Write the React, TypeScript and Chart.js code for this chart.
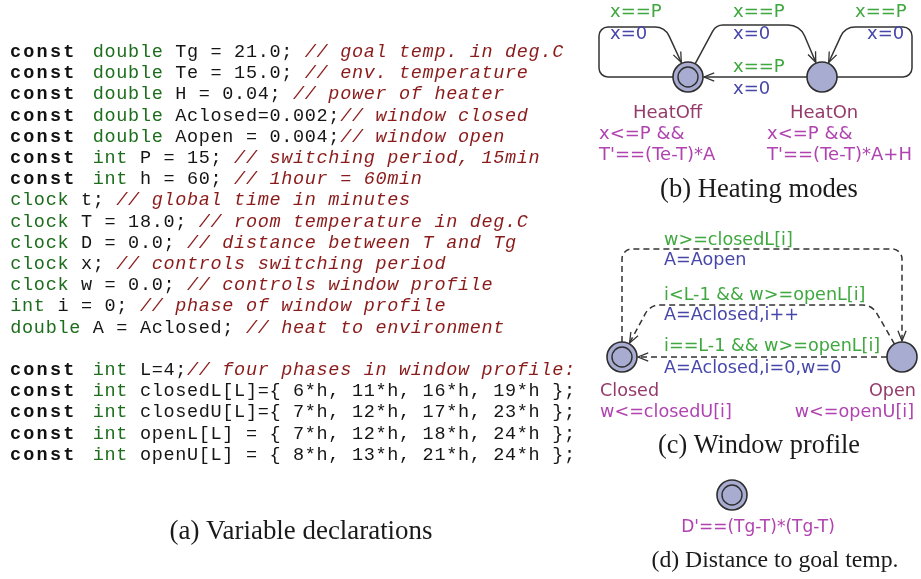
import React, { useEffect, useRef } from "react";
import { Chart, registerables } from "chart.js";
Chart.register(...registerables);

// ---------- (a) code listing: segments [style, text] ----------
type Seg = [string, string];
const codeLines: Seg[][] = [
  [["k", "const"], ["t", " double"], ["n", " Tg = 21.0; "], ["c", "// goal temp. in deg.C"]],
  [["k", "const"], ["t", " double"], ["n", " Te = 15.0; "], ["c", "// env. temperature"]],
  [["k", "const"], ["t", " double"], ["n", " H = 0.04; "], ["c", "// power of heater"]],
  [["k", "const"], ["t", " double"], ["n", " Aclosed=0.002;"], ["c", "// window closed"]],
  [["k", "const"], ["t", " double"], ["n", " Aopen = 0.004;"], ["c", "// window open"]],
  [["k", "const"], ["t", " int"], ["n", " P = 15; "], ["c", "// switching period, 15min"]],
  [["k", "const"], ["t", " int"], ["n", " h = 60; "], ["c", "// 1hour = 60min"]],
  [["t", "clock"], ["n", " t; "], ["c", "// global time in minutes"]],
  [["t", "clock"], ["n", " T = 18.0; "], ["c", "// room temperature in deg.C"]],
  [["t", "clock"], ["n", " D = 0.0; "], ["c", "// distance between T and Tg"]],
  [["t", "clock"], ["n", " x; "], ["c", "// controls switching period"]],
  [["t", "clock"], ["n", " w = 0.0; "], ["c", "// controls window profile"]],
  [["t", "int"], ["n", " i = 0; "], ["c", "// phase of window profile"]],
  [["t", "double"], ["n", " A = Aclosed; "], ["c", "// heat to environment"]],
  [],
  [["k", "const"], ["t", " int"], ["n", " L=4;"], ["c", "// four phases in window profile:"]],
  [["k", "const"], ["t", " int"], ["n", " closedL[L]={ 6*h, 11*h, 16*h, 19*h };"]],
  [["k", "const"], ["t", " int"], ["n", " closedU[L]={ 7*h, 12*h, 17*h, 23*h };"]],
  [["k", "const"], ["t", " int"], ["n", " openL[L] = { 7*h, 12*h, 18*h, 24*h };"]],
  [["k", "const"], ["t", " int"], ["n", " openU[L] = { 8*h, 13*h, 21*h, 24*h };"]],
];

// ---------- automata locations ----------
const nodeNames = ["HeatOff", "HeatOn", "Closed", "Open", "Goal"];
const nodeX = [688, 822, 622, 902, 732];
const nodeY = [77, 77, 357, 357, 495];
const nodeInitial = [1, 0, 1, 0, 1];

// ---------- automata edges ----------
const edgeFrom = [0, 1, 0, 1, 2, 3, 3];
const edgeTo = [0, 1, 1, 0, 3, 2, 2];
const edgeVia: [number, number][][] = [
  [[599, 77], [599, 27], [665, 27]],
  [[912, 77], [912, 27], [845, 27]],
  [[716, 25], [800, 25]],
  [],
  [[622, 249], [902, 249]],
  [[872, 305], [650, 305]],
  [],
];
const edgeRadii: number[][] = [[9, 9, 16], [9, 9, 16], [12, 18], [], [10, 10], [16, 16], []];
const edgeDashed = [0, 0, 0, 0, 1, 1, 1];

// ---------- labels ----------
const labelText = [
  "x==P", "x=0", "x==P", "x=0", "x==P", "x=0", "x==P", "x=0",
  "HeatOff", "HeatOn", "x<=P &&", "T'==(Te-T)*A", "x<=P &&", "T'==(Te-T)*A+H",
  "w>=closedL[i]", "A=Aopen", "i<L-1 && w>=openL[i]", "A=Aclosed,i++",
  "i==L-1 && w>=openL[i]", "A=Aclosed,i=0,w=0",
  "Closed", "w<=closedU[i]", "Open", "w<=openU[i]",
  "D'==(Tg-T)*(Tg-T)",
];
const labelX = [
  610, 610, 733, 733, 855, 867, 733, 733,
  633, 790, 599, 599, 767, 767,
  664, 664, 664, 664, 664, 664,
  600, 600, 916, 914,
  758,
];
const labelY = [
  17, 39, 17, 39, 17, 39, 72, 94,
  118, 118, 139, 160, 139, 160,
  245, 265, 300, 320, 351, 373,
  396, 417, 396, 417,
  532,
];
const labelKind = [
  "g", "a", "g", "a", "g", "a", "g", "a",
  "n", "n", "i", "i", "i", "i",
  "g", "a", "g", "a", "g", "a",
  "n", "i", "n", "i",
  "i",
];
const labelAlign = [
  "left", "left", "left", "left", "left", "left", "left", "left",
  "left", "left", "left", "left", "left", "left",
  "left", "left", "left", "left", "left", "left",
  "left", "left", "right", "right",
  "center",
];
const labelSize = [
  18, 18, 18, 18, 18, 18, 18, 18,
  18, 18, 18, 18, 18, 18,
  17.6, 17.6, 17.6, 17.6, 17.6, 17.6,
  17.6, 17.6, 17.6, 17.6,
  17,
];

// ---------- captions ----------
const captionText = ["(a) Variable declarations", "(b) Heating modes", "(c) Window profile", "(d) Distance to goal temp."];
const captionX = [301, 759, 759, 775];
const captionY = [539, 197, 453, 567];
const captionWidth = [263, 198, 202, 247];

const kindColor: Record<string, string> = {
  g: "#3fa83f",
  a: "#4747aa",
  n: "#953b6b",
  i: "#b043b0",
};

const codeColor: Record<string, string> = { k: "#111111", t: "#1c6e1c", n: "#151515", c: "#8a1b1b" };

function drawEdge(ctx: CanvasRenderingContext2D, pts: { x: number; y: number }[], radii: number[], dashed: boolean) {
  ctx.save();
  ctx.strokeStyle = "#333333";
  ctx.lineWidth = 1.5;
  ctx.setLineDash(dashed ? [6, 4] : []);
  ctx.beginPath();
  ctx.moveTo(pts[0].x, pts[0].y);
  for (let i = 1; i < pts.length - 1; i++) {
    ctx.arcTo(pts[i].x, pts[i].y, pts[i + 1].x, pts[i + 1].y, radii[i - 1] || 8);
  }
  const end = pts[pts.length - 1];
  ctx.lineTo(end.x, end.y);
  ctx.stroke();
  const prev = pts[pts.length - 2];
  const a = Math.atan2(end.y - prev.y, end.x - prev.x);
  const L = 11;
  const phi = 0.38;
  ctx.setLineDash([]);
  ctx.lineWidth = 1.3;
  ctx.beginPath();
  ctx.moveTo(end.x - L * Math.cos(a - phi), end.y - L * Math.sin(a - phi));
  ctx.lineTo(end.x, end.y);
  ctx.lineTo(end.x - L * Math.cos(a + phi), end.y - L * Math.sin(a + phi));
  ctx.stroke();
  ctx.restore();
}

const R = 15;

const figurePlugin = {
  id: "figure",
  beforeDatasetsDraw(chart: any) {
    const ctx: CanvasRenderingContext2D = chart.ctx;
    const sx = chart.scales.x;
    const sy = chart.scales.y;
    const px = (v: number) => sx.getPixelForValue(v);
    const py = (v: number) => sy.getPixelForValue(v);
    for (let e = 0; e < edgeFrom.length; e++) {
      const s = edgeFrom[e];
      const t = edgeTo[e];
      const sc = { x: px(nodeX[s]), y: py(nodeY[s]) };
      const tc = { x: px(nodeX[t]), y: py(nodeY[t]) };
      const via = edgeVia[e].map(([x, y]) => ({ x: px(x), y: py(y) }));
      const first = via.length ? via[0] : tc;
      const last = via.length ? via[via.length - 1] : sc;
      let dx = first.x - sc.x, dy = first.y - sc.y;
      let d = Math.hypot(dx, dy);
      const start = { x: sc.x + (dx / d) * R, y: sc.y + (dy / d) * R };
      dx = last.x - tc.x; dy = last.y - tc.y;
      d = Math.hypot(dx, dy);
      const end = { x: tc.x + (dx / d) * (R + 1), y: tc.y + (dy / d) * (R + 1) };
      drawEdge(ctx, [start, ...via, end], edgeRadii[e], !!edgeDashed[e]);
    }
  },
  afterDatasetsDraw(chart: any) {
    const ctx: CanvasRenderingContext2D = chart.ctx;
    const sx = chart.scales.x;
    const sy = chart.scales.y;
    const px = (v: number) => sx.getPixelForValue(v);
    const py = (v: number) => sy.getPixelForValue(v);
    ctx.save();
    // code listing
    const W = 11.78;
    const KW = 13.3;
    ctx.textBaseline = "alphabetic";
    ctx.textAlign = "left";
    codeLines.forEach((line, li) => {
      const y = py(57 + li * 21.2);
      let col = 0;
      line.forEach(([style, text]) => {
        if (style === "k") {
          ctx.font = 'bold 18.5px "Liberation Mono"';
          ctx.fillStyle = codeColor.k;
          const startX = 10 + col * W;
          for (let i = 0; i < text.length; i++) {
            ctx.fillText(text[i], px(startX + i * KW), y);
          }
          col += 6; // bold extended keyword takes six columns
          return;
        }
        ctx.font = (style === "c" ? "italic " : "") + '18.5px "Liberation Mono"';
        ctx.fillStyle = codeColor[style];
        for (let i = 0; i < text.length; i++) {
          if (text[i] !== " ") ctx.fillText(text[i], px(10 + col * W + 0.3), y);
          col += 1;
        }
      });
    });
    // automaton labels
    for (let i = 0; i < labelText.length; i++) {
      ctx.font = `${labelSize[i]}px "DejaVu Sans"`;
      ctx.fillStyle = kindColor[labelKind[i]];
      ctx.textAlign = labelAlign[i] as CanvasTextAlign;
      ctx.fillText(labelText[i], px(labelX[i]), py(labelY[i]));
    }
    // captions
    ctx.textAlign = "center";
    ctx.fillStyle = "#1a1a1a";
    for (let i = 0; i < captionText.length; i++) {
      ctx.font = '20px "Liberation Serif"';
      const w = ctx.measureText(captionText[i]).width;
      const size = (20 * captionWidth[i]) / w;
      ctx.font = `${size.toFixed(2)}px "Liberation Serif"`;
      ctx.fillText(captionText[i], px(captionX[i]), py(captionY[i]));
    }
    ctx.restore();
  },
};

export default function App() {
  const ref = useRef<HTMLCanvasElement | null>(null);
  useEffect(() => {
    document.body.style.margin = "0";
    document.body.style.background = "#ffffff";
    const canvas = ref.current;
    if (!canvas) return;
    const points = nodeX.map((x, i) => ({ x, y: nodeY[i] }));
    const initPoints = nodeX.map((x, i) => ({ x, y: nodeY[i] })).filter((_, i) => nodeInitial[i] === 1);
    const chart = new Chart(canvas, {
      type: "scatter",
      data: {
        datasets: [
          {
            label: "locations",
            data: points,
            order: 2,
            pointRadius: R,
            pointBackgroundColor: "#a8acd0",
            pointBorderColor: "#2e2e2e",
            pointBorderWidth: 1.6,
            pointHoverRadius: R,
          },
          {
            label: "initial",
            data: initPoints,
            order: 1,
            pointRadius: 10,
            pointBackgroundColor: "rgba(0,0,0,0)",
            pointBorderColor: "#2e2e2e",
            pointBorderWidth: 1.4,
            pointHoverRadius: 10,
          },
        ],
      },
      options: {
        animation: false,
        responsive: false,
        events: [],
        layout: { padding: 0, autoPadding: false },
        plugins: { legend: { display: false }, tooltip: { enabled: false }, title: { display: false } },
        scales: {
          x: { type: "linear", min: 0, max: 921, display: false },
          y: { type: "linear", min: 0, max: 579, reverse: true, display: false },
        },
      },
      plugins: [figurePlugin],
    });
    return () => chart.destroy();
  }, []);
  return (
    <div style={{ width: 921, height: 579, background: "#fff" }}>
      <canvas ref={ref} width={921} height={579} style={{ display: "block" }} />
    </div>
  );
}
